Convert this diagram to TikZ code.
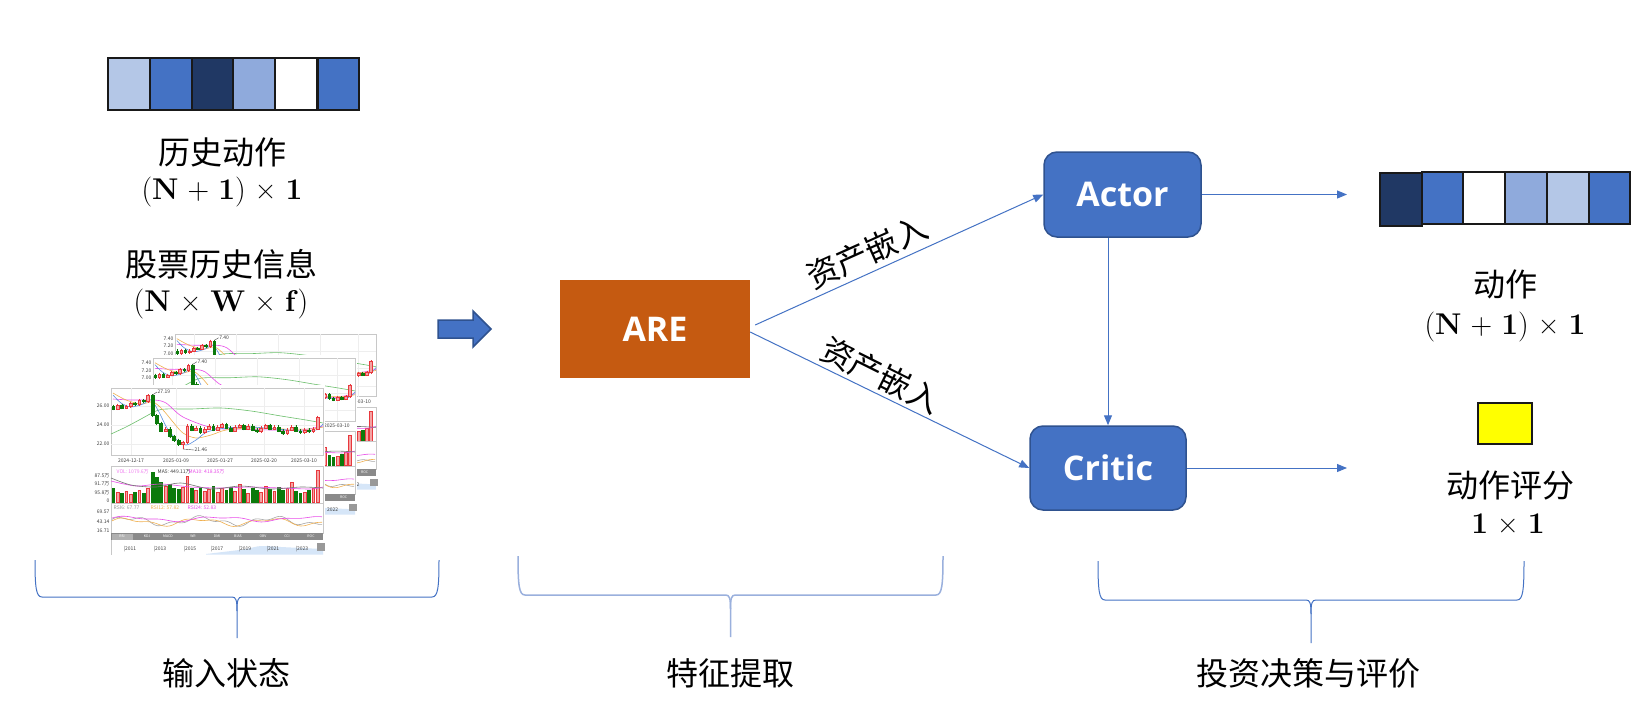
\documentclass[tikz,border=0pt]{standalone}
\usepackage{fontspec}
\newfontfamily\cjk{Noto Sans CJK SC}
\newfontfamily\uisans{Open Sans}
\usetikzlibrary{arrows.meta}
\definecolor{bcA}{HTML}{B4C7E7}
\definecolor{bcB}{HTML}{4472C4}
\definecolor{bcC}{HTML}{203864}
\definecolor{bcD}{HTML}{8FAADC}
\definecolor{bdark}{HTML}{2F528F}
\definecolor{areC}{HTML}{C55A11}
\definecolor{yelC}{HTML}{FFFF00}
\definecolor{candR}{HTML}{F4A3A3}
\definecolor{candRd}{HTML}{E8383D}
\definecolor{candG}{HTML}{0B7A0B}
\definecolor{maB}{HTML}{5B8FE0}
\definecolor{maO}{HTML}{F0B050}
\definecolor{maM}{HTML}{E84CE8}
\definecolor{maG}{HTML}{6CBF6C}
\definecolor{frameC}{HTML}{C8C8C8}
\definecolor{gridC}{HTML}{EEEEEE}
\definecolor{tabC}{HTML}{8A8A8A}
\definecolor{tabL}{HTML}{B0B0B0}
\definecolor{tlC}{HTML}{D6E6F8}
\definecolor{volP}{HTML}{F07CF0}
\definecolor{braceL}{HTML}{9AB0DD}

\tikzset{
  cell/.style={draw=black!90, line width=2pt, minimum width=41.7pt, minimum height=52pt, inner sep=0pt, outer sep=0pt},
  cjklab/.style={font=\cjk\fontsize{32}{38}\selectfont, inner sep=0pt},
  mathlab/.style={font=\fontsize{30}{36}\selectfont, inner sep=0pt},
  uibox/.style={font=\uisans\bfseries\fontsize{34}{40}\selectfont, text=white},
  conn/.style={draw=bcB, line width=1pt, -{Triangle[length=10pt,width=8pt]}},
  bracest/.style={draw=bcB, line width=1pt},
  cframe/.style={draw=frameC, line width=0.5pt},
  cgrid/.style={draw=gridC, line width=0.4pt},
  candr/.style={draw=candRd, fill=candR, line width=0.4pt},
  candg/.style={draw=candG, fill=candG, line width=0.4pt},
  mline/.style={line width=0.6pt},
  ctxt/.style={font=\cjk\fontsize{5}{6}\selectfont, inner sep=0.5pt, text=black!75},
  tabtxt/.style={font=\cjk\fontsize{3.5}{4}\selectfont, inner sep=0pt, text=white},
}

\newcommand\dimNone{(\textbf{N} + \textbf{1}) × \textbf{1}}
\newif\ifbackchart

% #1-#3 price labels, #4-#6 their y, #7 high annotation, #8 low annotation
\newcommand\chartbody[8]{%
  \fill[white] (-22,-3) rectangle (214,168);
  \draw[cframe] (0,0) rectangle (212,67);
  \foreach \yy in {18,37,56} \draw[cgrid] (0,\yy) -- (212,\yy);
  \foreach \xx in {20,65,109,153,193} \draw[cgrid] (\xx,0) -- (\xx,67);
  \node[ctxt, anchor=east] (pl1) at (-1,#4) {#1};
  \node[ctxt, anchor=east] (pl2) at (-1,#5) {#2};
  \node[ctxt, anchor=east] (pl3) at (-1,#6) {#3};
  \draw[mline, maG] plot[smooth] coordinates {(0,46) (15,39) (30,31) (45,23) (55,21) (80,21) (110,20) (140,23) (170,28) (195,32) (212,35)};
  \draw[mline, maM] plot[smooth] coordinates {(2,11) (20,12) (43,12) (55,15) (72,29) (102,40) (130,41) (160,42) (190,42) (212,38)};
  \draw[mline, maO] plot[smooth] coordinates {(2,5) (15,12) (30,16) (42,14) (52,22) (62,34) (72,45) (85,50) (100,47) (115,42) (140,40) (170,41) (200,41) (212,39)};
  \draw[mline, maB] plot[smooth] coordinates {(2,7) (10,15) (20,19) (32,16) (40,12) (48,24) (56,40) (66,52) (75,57) (85,52) (96,44) (115,40) (140,39) (165,41) (190,43) (205,42) (212,36)};
  \foreach \c/\v [count=\i, remember=\c as \o (initially 26.0)] in
    {25.7/14, 26.1/10, 25.8/9, 26.0/11, 26.3/8, 26.2/10, 26.6/12, 26.5/9, 27.1/14, 25.0/30,
     24.2/25, 23.4/20, 23.6/16, 22.8/18, 22.4/14, 22.0/13, 22.2/15, 23.9/26, 23.5/14, 23.7/12,
     23.2/15, 23.6/11, 23.9/13, 23.5/16, 23.8/10, 24.1/14, 23.7/12, 23.4/15, 23.8/11, 24.0/18,
     23.6/13, 23.9/9, 23.5/14, 23.3/12, 23.7/10, 24.0/16, 23.6/13, 23.8/11, 23.4/15, 23.1/12,
     23.5/14, 23.8/20, 23.4/11, 23.2/9, 23.5/10, 23.3/12, 23.6/14, 24.8/32}{%
    \pgfmathsetmacro\xx{(\i-0.5)*4.35}%
    \pgfmathsetmacro\yo{265-9.5*\o}%
    \pgfmathsetmacro\yc{265-9.5*\c}%
    \pgfmathsetmacro\yhi{min(\yo,\yc)-1.5}%
    \pgfmathsetmacro\ylo{max(\yo,\yc)+1.5}%
    \pgfmathtruncatemacro\up{\c>\o}%
    \ifnum\up=1 \tikzset{cst/.style={candr}}\else \tikzset{cst/.style={candg}}\fi
    \draw[cst] (\xx,\yhi) -- (\xx,\ylo);
    \filldraw[cst] (\xx-1.4,\yo) rectangle (\xx+1.4,\yc);
    \filldraw[cst] (\xx-1.4,114.5) rectangle (\xx+1.4,114.5-\v);
  }
  \draw[candr] (71.8,56) -- (71.8,61);
  \draw[black!70, line width=0.4pt] (41.3,7) -- (46,4);
  \node[ctxt, anchor=west] (hia) at (46,4) {#7};
  \draw[cframe] (0,78) rectangle (212,115);
  \draw[mline, maM] plot[smooth] coordinates {(0,93) (25,98) (50,96) (80,99) (110,100) (140,99) (170,100) (200,101) (212,99)};
  \draw[mline, black!55] plot[smooth] coordinates {(0,90) (20,97) (45,99) (70,95) (100,101) (130,98) (160,101) (190,99) (212,100)};
  \draw[cframe] (0,115) rectangle (212,145);
  \draw[mline, black!35] plot[domain=1:211, samples=70, smooth] (\x,{133-3.5*sin(\x*5)-2*sin(\x*13+30)});
  \draw[mline, maO] plot[domain=1:211, samples=70, smooth] (\x,{134-3*sin(\x*5+10)-1.5*sin(\x*11)});
  \draw[mline, maM] plot[domain=1:211, samples=70, smooth] (\x,{131-2*sin(\x*4+20)-1*sin(\x*9)});
  \fill[tabC] (0,145) rectangle (212,152);
  \fill[tabL] (1,145.5) rectangle (22,151.5);
  \draw[cframe] (0,152) -- (0,167);
  \fill[tlC] (95,166.5) -- plot[smooth] coordinates {(95,166) (120,163) (135,161) (150,158) (170,159) (190,160) (212,161)} -- (212,166.5) -- cycle;
  \fill[black!40] (206,155) rectangle (214,163);
  \node[tabtxt] (tabroc) at (200,148.5) {ROC};
  \ifbackchart
    \node[ctxt] (date5) at (193,72.5) {2025-03-10};
    \node[ctxt, anchor=west] (yrlast) at (182,161) {2022};
  \else
    \draw[black!70, line width=0.4pt] (71.8,61) -- (83,62);
    \node[ctxt, anchor=west] (loa) at (83,62) {#8};
    \foreach \dx/\dn [count=\k] in {20/2024-12-17, 65/2025-01-09, 109/2025-01-27, 153/2025-02-20, 193/2025-03-10}
      \node[ctxt] (date\k) at (\dx,72.5) {\dn};
    \node[ctxt, anchor=west, text=volP] (vh1) at (5,84) {VOL: 1079.6万};
    \node[ctxt, anchor=west] (vh2) at (46,84) {MA5: 449.11万};
    \node[ctxt, anchor=west, text=maM] (vh3) at (77,84) {MA10: 418.35万};
    \foreach \vy/\vn [count=\k] in {88/87.5万, 96/91.7万, 105/95.8万, 113/0}
      \node[ctxt, anchor=east] (vl\k) at (-1,\vy) {\vn};
    \node[ctxt, anchor=west, text=black!40] (rh1) at (2,119.5) {RSI6: 67.77};
    \node[ctxt, anchor=west, text=maO] (rh2) at (39,119.5) {RSI12: 57.82};
    \node[ctxt, anchor=west, text=maM] (rh3) at (76,119.5) {RSI24: 52.83};
    \foreach \ry/\rn [count=\k] in {124/69.57, 134/43.14, 143/16.71}
      \node[ctxt, anchor=east] (rl\k) at (-1,\ry) {\rn};
    \foreach \tx/\tn [count=\k] in {11/RSI, 36/KDJ, 57/MACD, 82/WR, 106/DMI, 127/BIAS, 152/OBV, 176/CCI}
      \node[tabtxt] (tab\k) at (\tx,148.5) {\tn};
    \foreach \yx/\yn [count=\k] in {12/2011, 42/2013, 72/2015, 99/2017, 127/2019, 155/2021, 184/2023}
      \node[ctxt, anchor=west] (yr\k) at (\yx,161) {|\yn};
  \fi
}

% #1 xl, #2 xr, #3 y top, #4 y horizontal, #5 y tip, #6 style
\newcommand\bracedraw[6]{%
  \pgfmathsetmacro\xm{(#1+#2)/2}%
  \draw[#6] (#1,#3) .. controls (#1,#4-10) and (#1+1,#4) .. (#1+7,#4) -- (\xm-5,#4) .. controls (\xm-1,#4) and (\xm,#4+3) .. (\xm,#4+14) -- (\xm,#5);
  \draw[#6] (#2,#3) .. controls (#2,#4-10) and (#2-1,#4) .. (#2-7,#4) -- (\xm+5,#4) .. controls (\xm+1,#4) and (\xm,#4+3) .. (\xm,#4+14);
}

\begin{document}
\begin{tikzpicture}[x=1pt, y=-1pt]
\useasboundingbox (0,0) rectangle (1642,707);
\fill[white] (0,0) rectangle (1642,707);

\node[cell, fill=bcA]   (h1) at (129.2,84) {};
\node[cell, fill=bcB]   (h2) at (170.9,84) {};
\node[cell, fill=bcC]   (h3) at (212.6,84) {};
\node[cell, fill=bcD]   (h4) at (254.3,84) {};
\node[cell, fill=white] (h5) at (296.0,84) {};
\node[cell, fill=bcB]   (h6) at (338.5,84) {};

\node[cjklab] (histlab) at (222,152) {历史动作};
\node[mathlab] (histdim) at (222,192) {\dimNone};
\node[cjklab] (stocklab) at (221,264) {股票历史信息};
\node[mathlab] (stockdim) at (221,304) {(\textbf{N} × \textbf{W} × \textbf{f})};

\backcharttrue
\begin{scope}[shift={(175,334)}, xscale=0.948, yscale=0.934, name prefix=A-]
  \chartbody{7.40}{7.20}{7.00}{5}{13}{21}{7.40}{21.46}
\end{scope}
\begin{scope}[shift={(153,358)}, xscale=0.953, yscale=0.94, name prefix=B-]
  \chartbody{7.40}{7.20}{7.00}{5}{13}{21}{7.40}{21.46}
\end{scope}
\backchartfalse
\begin{scope}[shift={(111,388)}, name prefix=C-]
  \chartbody{26.00}{24.00}{22.00}{18}{37}{56}{27.19}{21.46}
\end{scope}

\filldraw[fill=bcB, draw=bdark, line width=1.5pt] (438,320) -- (473,320) -- (473,311) -- (491,329) -- (473,347) -- (473,338) -- (438,338) -- cycle;

\node[fill=areC, minimum width=190pt, minimum height=98pt, uibox] (are) at (655,329) {ARE};

\node[fill=bcB, draw=bdark, line width=1.5pt, rounded corners=13pt, minimum width=157pt, minimum height=85pt, uibox] (actor) at (1122.5,194.5) {Actor};
\node[fill=bcB, draw=bdark, line width=1.5pt, rounded corners=13pt, minimum width=156pt, minimum height=84pt, uibox] (critic) at (1108,468) {Critic};

\draw[conn] ([xshift=5pt, yshift=4pt]are.east) -- (actor.west);
\draw[conn] ([yshift=-3pt]are.east) -- (critic.west);
\draw[conn] (actor.south -| critic.north) -- (critic.north);

\node[cjklab, rotate=24.2] (emb1) at (867,252) {资产嵌入};
\node[cjklab, rotate=-26.6] (emb2) at (881,375) {资产嵌入};

\coordinate (out1) at (1347,194.5);
\coordinate (out2) at (1347,468);
\draw[conn] (actor.east) -- (out1);
\draw[conn] (critic.east) -- (out2);

\node[cell, fill=bcB]   (o2) at (1442.55,198) {};
\node[cell, fill=white] (o3) at (1484.25,198) {};
\node[cell, fill=bcD]   (o4) at (1525.95,198) {};
\node[cell, fill=bcA]   (o5) at (1567.65,198) {};
\node[cell, fill=bcB]   (o6) at (1609.35,198) {};
\node[cell, fill=bcC, minimum height=53pt] (o1) at (1400.85,199) {};

\node[cjklab] (actlab) at (1505,284) {动作};
\node[mathlab] (actdim) at (1505,327) {\dimNone};

\node[draw=black!90, line width=2pt, fill=yelC, minimum width=54pt, minimum height=41pt, inner sep=0pt] (score) at (1505,423.5) {};
\node[cjklab] (scorelab) at (1510,485) {动作评分};
\node[mathlab] (scoredim) at (1508,524) {\textbf{1} × \textbf{1}};

\bracedraw{35}{439}{560}{597}{638}{bracest}
\bracedraw{518}{943}{556}{595}{637}{draw=braceL, line width=1.5pt}
\bracedraw{1098}{1524}{561}{600}{643}{bracest}

\node[cjklab] (lab1) at (226,673) {输入状态};
\node[cjklab] (lab2) at (730,673) {特征提取};
\node[cjklab] (lab3) at (1308,673) {投资决策与评价};
\end{tikzpicture}
\end{document}
